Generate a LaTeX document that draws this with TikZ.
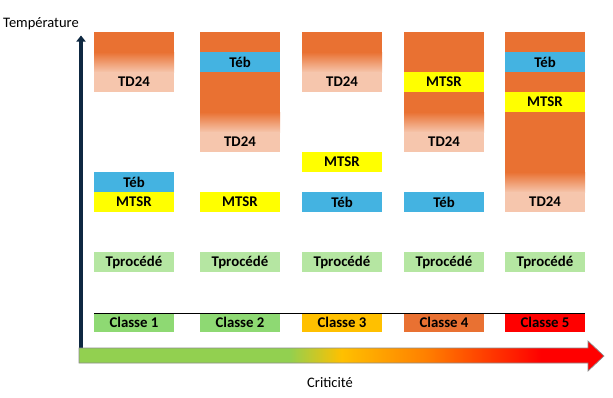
\documentclass[tikz,border=0pt]{standalone}
\usepackage{fontspec}
\setmainfont{Carlito}
\usetikzlibrary{arrows.meta}
\definecolor{orng}{HTML}{E97132}
\definecolor{pale}{HTML}{F6C6AD}
\definecolor{teb}{HTML}{44B3E1}
\definecolor{mtsr}{HTML}{FFFF00}
\definecolor{tproc}{HTML}{B5E6A2}
\definecolor{cgreen}{HTML}{8ED973}
\definecolor{cgold}{HTML}{FFC000}
\definecolor{cred}{HTML}{FF0000}
\definecolor{axisc}{HTML}{0E2841}
\definecolor{ag}{HTML}{92D050}
\definecolor{aorange}{HTML}{FF8000}
\pgfdeclarehorizontalshading{crit}{100bp}{color(0bp)=(ag); color(45bp)=(ag); color(50bp)=(cgold); color(58bp)=(aorange); color(69bp)=(cred); color(100bp)=(cred)}
\newcommand\lblfont{\fontsize{14.8}{16}\selectfont\bfseries}
\newcommand\axfont{\fontsize{14.5}{16}\selectfont}
\begin{document}
\begin{tikzpicture}[x=1pt,y=-1pt,
  box/.style={minimum width=80pt, minimum height=20pt, inner sep=0pt, outer sep=0pt, anchor=north west, font=\lblfont},
  grad/.style={top color=orng, bottom color=pale},
  cls/.style={box, minimum height=19pt}]
\useasboundingbox (0,0) rectangle (613,397);
% column 1
\fill[orng] (94,32) rectangle (174,52.5);
\shade[grad] (94,52) rectangle (174,72.5);
\node[box,fill=pale] (td1) at (94,72) {TD24};
\node[box,fill=teb] (teb1) at (94,172) {Téb};
\node[box,fill=mtsr] (mt1) at (94,192) {MTSR};
\node[box,fill=tproc] (tp1) at (94,252) {Tprocédé};
% column 2
\fill[orng] (200,32) rectangle (280,112.5);
\shade[grad] (200,112) rectangle (280,132.5);
\node[box,fill=pale] (td2) at (200,132) {TD24};
\node[box,fill=teb] (teb2) at (200,52) {Téb};
\node[box,fill=mtsr] (mt2) at (200,192) {MTSR};
\node[box,fill=tproc] (tp2) at (200,252) {Tprocédé};
% column 3
\fill[orng] (302,32) rectangle (382,52.5);
\shade[grad] (302,52) rectangle (382,72.5);
\node[box,fill=pale] (td3) at (302,72) {TD24};
\node[box,fill=mtsr] (mt3) at (302,152) {MTSR};
\node[box,fill=teb] (teb3) at (302,192) {Téb};
\node[box,fill=tproc] (tp3) at (302,252) {Tprocédé};
% column 4
\fill[orng] (404,32) rectangle (484,112.5);
\shade[grad] (404,112) rectangle (484,132.5);
\node[box,fill=pale] (td4) at (404,132) {TD24};
\node[box,fill=mtsr] (mt4) at (404,72) {MTSR};
\node[box,fill=teb] (teb4) at (404,192) {Téb};
\node[box,fill=tproc] (tp4) at (404,252) {Tprocédé};
% column 5
\fill[orng] (505,32) rectangle (585,172.5);
\shade[grad] (505,172) rectangle (585,192.5);
\node[box,fill=pale] (td5) at (505,192) {TD24};
\node[box,fill=teb] (teb5) at (505,52) {Téb};
\node[box,fill=mtsr] (mt5) at (505,92) {MTSR};
\node[box,fill=tproc] (tp5) at (505,252) {Tprocédé};
% classes
\node[cls,fill=cgreen] (c1) at (94,313) {Classe 1};
\node[cls,fill=cgreen] (c2) at (200,313) {Classe 2};
\node[cls,fill=cgold] (c3) at (302,313) {Classe 3};
\node[cls,fill=orng] (c4) at (404,313) {Classe 4};
\node[cls,fill=cred] (c5) at (505,313) {Classe 5};
\draw[line width=1pt] (c1.north west) -- (c5.north east);
% axes
\coordinate (ybot) at (81,348);
\coordinate (ytop) at (81,35.5);
\draw[axisc, line width=3.5pt, -{Triangle[width=9pt,length=6pt]}] (ybot) -- (ytop);
\shadedraw[shading=crit, draw=black!45, line width=0.7pt] (79,348) -- (588,348) -- (588,341) -- (604,356) -- (588,371) -- (588,363) -- (79,363) -- cycle;
\node[font=\axfont] (temp) at (41,24) {Température};
\node[font=\axfont] (crit) at (330,383) {Criticité};
\end{tikzpicture}
\end{document}
